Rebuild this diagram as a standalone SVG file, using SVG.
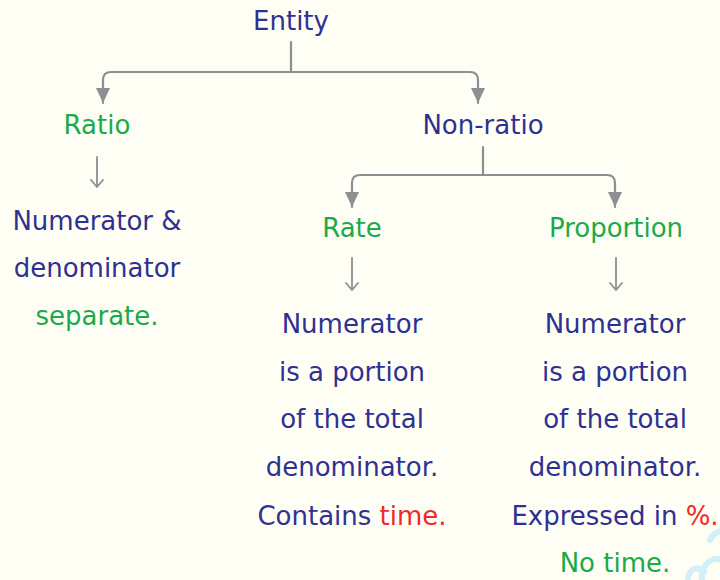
<svg xmlns="http://www.w3.org/2000/svg" width="720" height="580" viewBox="0 0 720 580">
<defs>
<style>
.t{font-family:"DejaVu Sans","Liberation Sans",sans-serif;font-size:26px;text-anchor:middle;fill:#2E3192}
.g{fill:#1AAA4A}
.r{fill:#EE2A2A}
.c{fill:none;stroke:#8E8E93;stroke-width:2.2;stroke-linecap:round;stroke-linejoin:round}
.s{fill:none;stroke:#8E8E93;stroke-width:1.8;stroke-linecap:round;stroke-linejoin:round}
</style>
<marker id="ah" viewBox="0 0 15 14" refX="15" refY="7" markerWidth="15" markerHeight="14" markerUnits="userSpaceOnUse" orient="auto-start-reverse">
<path d="M0,0 L15,7 L0,14 Z" fill="#8E8E93"/>
</marker>
</defs>
<rect width="720" height="580" fill="#FEFEF4"/>
<g id="deco" fill="none" stroke="#D3F0F8" stroke-width="6" stroke-linecap="round">
<path d="M702,580 C700,565 712,556 722,560"/>
<path d="M688,578 C690,568 698,566 704,572"/>
<path d="M710,540 C714,532 720,530 724,532"/>
</g>
<g id="connectors">
<path class="c" d="M291,42 V72"/>
<path class="c" d="M103,103 V80 Q103,72 111,72 H470 Q478,72 478,80 V103" marker-start="url(#ah)" marker-end="url(#ah)"/>
<path class="c" d="M483,147 V175"/>
<path class="c" d="M352,207 V183 Q352,175 360,175 H607 Q615,175 615,183 V207" marker-start="url(#ah)" marker-end="url(#ah)"/>
<path class="s" d="M97,157 V187 M91,180 L97,187 L103,180"/>
<path class="s" d="M352,258 V290 M346,283 L352,290 L358,283"/>
<path class="s" d="M616,258 V290 M610,283 L616,290 L622,283"/>
</g>
<g id="entity"><text class="t" x="291" y="30">Entity</text></g>
<g id="ratio"><text class="t g" x="97" y="134">Ratio</text></g>
<g id="nonratio"><text class="t" x="483" y="134">Non-ratio</text></g>
<g id="rate"><text class="t g" x="352" y="237">Rate</text></g>
<g id="proportion"><text class="t g" x="616" y="237">Proportion</text></g>
<g id="ratio-desc">
<text class="t" x="97" y="230">Numerator &amp;</text>
<text class="t" x="97" y="277">denominator</text>
<text class="t g" x="97" y="325">separate.</text>
</g>
<g id="rate-desc">
<text class="t" x="352" y="333">Numerator</text>
<text class="t" x="352" y="381">is a portion</text>
<text class="t" x="352" y="428">of the total</text>
<text class="t" x="352" y="476">denominator.</text>
<text class="t" x="352" y="525">Contains <tspan class="r">time.</tspan></text>
</g>
<g id="proportion-desc">
<text class="t" x="615" y="333">Numerator</text>
<text class="t" x="615" y="381">is a portion</text>
<text class="t" x="615" y="428">of the total</text>
<text class="t" x="615" y="476">denominator.</text>
<text class="t" x="615" y="525">Expressed in <tspan class="r">%.</tspan></text>
<text class="t g" x="615" y="572">No time.</text>
</g>
</svg>
